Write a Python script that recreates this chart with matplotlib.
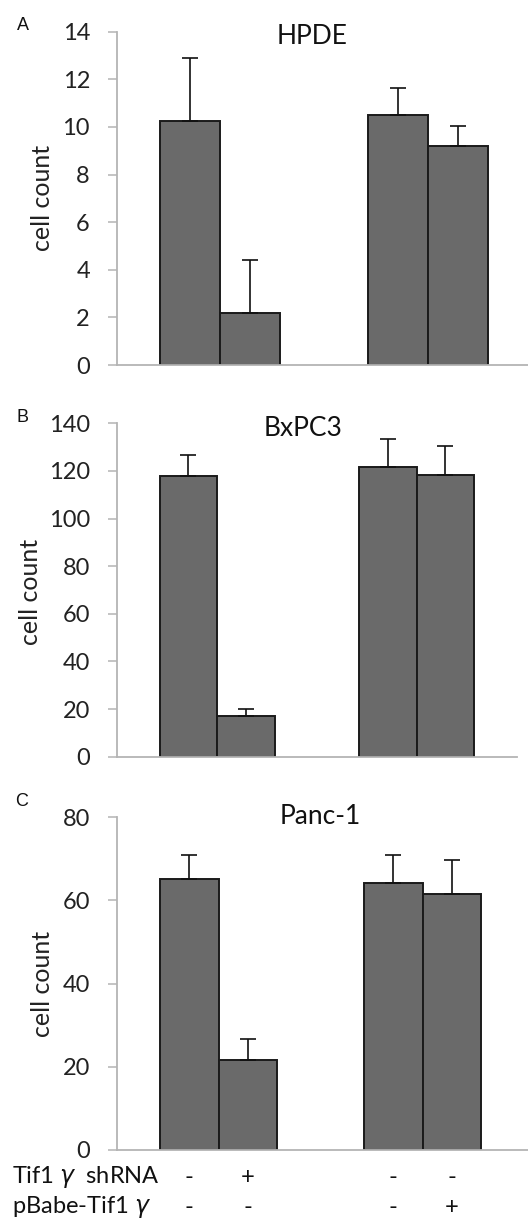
import matplotlib
matplotlib.use("Agg")
import matplotlib.pyplot as plt
from matplotlib.transforms import blended_transform_factory

# ---- data ----
panels = ["HPDE", "BxPC3", "Panc-1"]
letters = ["A", "B", "C"]
hpde_means = [10.25, 2.2, 10.5, 9.2]
hpde_err = [2.65, 2.2, 1.15, 0.83]
bxpc3_means = [117.9, 17.2, 121.8, 118.3]
bxpc3_err = [8.6, 2.8, 11.6, 12.2]
panc1_means = [65.1, 21.6, 64.1, 61.5]
panc1_err = [5.8, 5.0, 6.8, 8.2]
yticks_list = [list(range(0, 15, 2)), list(range(0, 141, 20)), list(range(0, 81, 20))]
shrna_row = ["-", "+", "-", "-"]
pbabe_row = ["-", "-", "-", "+"]
row_labels = [r"Tif1 $\gamma$  shRNA", r"pBabe-Tif1 $\gamma$"]

means_list = [hpde_means, bxpc3_means, panc1_means]
err_list = [hpde_err, bxpc3_err, panc1_err]

W, H = 528, 1219
fig = plt.figure(figsize=(W / 100, H / 100), dpi=100)

xpos = [0, 1, 3.47, 4.47]
# per panel: (left px, right px, bottom px, top px, bar unit px, first bar centre px)
geom = [
    (117, 528, 365, 31.7, 60.0, 190.0),
    (117, 517, 756.7, 423.3, 57.5, 188.3),
    (117, 528, 1150, 817.3, 58.8, 189.2),
]
title_pos = [(312, 36), (303, 428), (320, 817)]
letter_pos = [(23, 25), (23, 417), (22, 802)]
ylabel_pos = [(43, 198), (30, 592), (43, 984)]

FONT = "Lato"
spine_col = "#b4b4b4"

for i in range(3):
    l, r, b, t, unit, c0 = geom[i]
    ax = fig.add_axes([l / W, 1 - b / H, (r - l) / W, (b - t) / H])
    ymax = yticks_list[i][-1]
    ax.bar(xpos, means_list[i], width=1.0, color="#6a6a6a", edgecolor="#1a1a1a",
           linewidth=1.4, zorder=2)
    ax.errorbar(xpos, means_list[i], yerr=[[0] * 4, err_list[i]], fmt="none",
                ecolor="#111111", elinewidth=1.2, capsize=6, capthick=1.2, zorder=3)
    ax.set_xlim((l - c0) / unit, (r - c0) / unit)
    ax.set_ylim(0, ymax)
    ax.set_yticks(yticks_list[i])
    ax.set_yticklabels([str(v) for v in yticks_list[i]], fontfamily=FONT, fontsize=17,
                       color="#222222")
    ax.tick_params(axis="y", direction="out", length=6.5, width=1.1, color=spine_col, pad=13)
    ax.set_xticks([])
    for s in ["top", "right"]:
        ax.spines[s].set_visible(False)
    for s in ["left", "bottom"]:
        ax.spines[s].set_color(spine_col)
        ax.spines[s].set_linewidth(1.3)
    ax.patch.set_visible(False)

    tx, ty = title_pos[i]
    fig.text(tx / W, 1 - ty / H, panels[i], ha="center", va="center",
             fontfamily=FONT, fontsize=19, color="#111111")
    lx, ly = letter_pos[i]
    fig.text(lx / W, 1 - ly / H, letters[i], ha="center", va="center",
             fontfamily="Liberation Sans", fontsize=13, color="#111111")
    yx, yy = ylabel_pos[i]
    fig.text(yx / W, 1 - yy / H, "cell count", ha="center", va="center", rotation=90,
             fontfamily=FONT, fontsize=18, color="#222222")

    if i == 2:
        trans = blended_transform_factory(ax.transData, fig.transFigure)
        for x, s1, s2 in zip(xpos, shrna_row, pbabe_row):
            fig.text(x, 1 - 1177 / H, s1, transform=trans, ha="center", va="center",
                     fontfamily=FONT, fontsize=17, color="#111111")
            fig.text(x, 1 - 1207 / H, s2, transform=trans, ha="center", va="center",
                     fontfamily=FONT, fontsize=17, color="#111111")
        fig.text(12 / W, 1 - 1177 / H, row_labels[0], ha="left", va="center",
                 fontfamily=FONT, fontsize=17, color="#111111")
        fig.text(12 / W, 1 - 1207 / H, row_labels[1], ha="left", va="center",
                 fontfamily=FONT, fontsize=17, color="#111111")

fig.savefig("out.png", dpi=100)
